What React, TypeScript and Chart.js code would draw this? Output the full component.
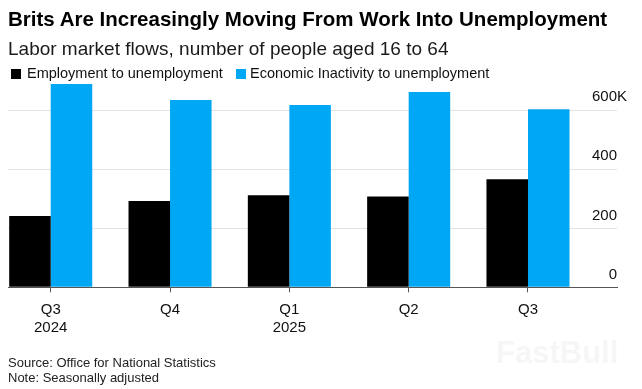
import React, { useEffect, useRef } from 'react';
import { Chart, registerables } from 'chart.js';

Chart.register(...registerables);

// ---- Data ----
const CATEGORIES: string[][] = [['Q3', '2024'], ['Q4'], ['Q1', '2025'], ['Q2'], ['Q3']];
const EMP_TO_UNEMP = [241, 292, 312, 307, 366]; // thousands
const INACT_TO_UNEMP = [688, 634, 617, 661, 603]; // thousands
const Y_TICKS = [0, 200, 400, 600];
const SERIES_NAMES = ['Employment to unemployment', 'Economic Inactivity to unemployment'];

const TITLE = 'Brits Are Increasingly Moving From Work Into Unemployment';
const SUBTITLE = 'Labor market flows, number of people aged 16 to 64';
const SOURCE = 'Source: Office for National Statistics';
const NOTE = 'Note: Seasonally adjusted';

// ---- Styles ----
const COLORS = ['#000000', '#00a7f5'];
const FONT = '"Liberation Sans", Arial, Helvetica, sans-serif';
const TEXT = '#111111';

const yLabelPlugin = {
  id: 'yLabelsRight',
  afterDraw(chart: any) {
    const ys = chart.scales.y;
    const ctx = chart.ctx as CanvasRenderingContext2D;
    const right = chart.chartArea.right;
    const top = Math.max(...Y_TICKS);
    ctx.save();
    ctx.font = `15px ${FONT}`;
    ctx.fillStyle = TEXT;
    ctx.textBaseline = 'alphabetic';
    for (const v of Y_TICKS) {
      const py = ys.getPixelForValue(v) - 8.7;
      ctx.textAlign = 'right';
      ctx.fillText(String(v), right, py);
      if (v === top) {
        ctx.textAlign = 'left';
        ctx.fillText('K', right, py);
      }
    }
    ctx.restore();
  },
};

function BarChart() {
  const ref = useRef<HTMLCanvasElement | null>(null);
  useEffect(() => {
    if (!ref.current) return;
    const chart = new Chart(ref.current, {
      type: 'bar',
      data: {
        datasets: [
          {
            label: SERIES_NAMES[0],
            data: EMP_TO_UNEMP.map((v, i) => ({ x: i, y: v })),
            backgroundColor: COLORS[0],
          },
          {
            label: SERIES_NAMES[1],
            data: INACT_TO_UNEMP.map((v, i) => ({ x: i, y: v })),
            backgroundColor: COLORS[1],
          },
        ],
      },
      options: {
        animation: false,
        responsive: false,
        maintainAspectRatio: false,
        layout: { padding: { top: 80.5, left: 8, right: 25, bottom: 51.7 } },
        plugins: {
          legend: { display: false },
          title: { display: false },
          tooltip: { enabled: false },
        },
        datasets: { bar: { categoryPercentage: 0.696, barPercentage: 1 } },
        scales: {
          x: {
            type: 'linear',
            min: -0.358,
            max: 4.746,
            offset: false,
            afterBuildTicks: (s: any) => {
              s.ticks = CATEGORIES.map((_, i) => ({ value: i }));
            },
            afterFit: (s: any) => {
              s.height = 50;
            },
            grid: {
              display: true,
              offset: false,
              drawOnChartArea: false,
              drawTicks: true,
              tickLength: 5,
              color: '#555555',
              lineWidth: 1,
            },
            border: { display: true, color: '#555555', width: 1 },
            ticks: {
              autoSkip: false,
              maxRotation: 0,
              minRotation: 0,
              padding: 9,
              color: TEXT,
              font: { family: FONT, size: 15, lineHeight: 1.16 },
              callback: (v: any) => CATEGORIES[v] ?? '',
            },
          },
          y: {
            position: 'right',
            min: 0,
            max: 700,
            afterBuildTicks: (s: any) => {
              s.ticks = Y_TICKS.map((v) => ({ value: v }));
            },
            afterFit: (s: any) => {
              s.width = 0;
            },
            grid: { color: '#e3e3e3', drawTicks: false, lineWidth: 1 },
            border: { display: false },
            ticks: { display: false },
          },
        },
      } as any,
      plugins: [yLabelPlugin],
    });
    return () => chart.destroy();
  }, []);
  return (
    <canvas
      ref={ref}
      width={642}
      height={389}
      style={{ position: 'absolute', left: 0, top: 0, width: 642, height: 389, display: 'block' }}
    />
  );
}

export default function App() {
  const abs = (top: number, left: number, size: number, extra: React.CSSProperties = {}): React.CSSProperties => ({
    position: 'absolute',
    top,
    left,
    fontSize: size,
    lineHeight: `${size}px`,
    fontFamily: FONT,
    color: TEXT,
    whiteSpace: 'nowrap',
    margin: 0,
    ...extra,
  });
  return (
    <div style={{ position: 'fixed', left: 0, top: 0, width: 642, height: 389, background: '#ffffff', overflow: 'hidden' }}>
      <BarChart />
      <div style={abs(9.3, 8, 20.5, { fontWeight: 700, color: '#000' })}>{TITLE}</div>
      <div style={abs(38.9, 8, 19, { color: '#1a1a1a' })}>{SUBTITLE}</div>
      <div style={{ position: 'absolute', top: 69, left: 10.5, width: 10, height: 10, background: COLORS[0] }} />
      <div style={abs(66.4, 27, 14.5)}>{SERIES_NAMES[0]}</div>
      <div style={{ position: 'absolute', top: 69, left: 235.5, width: 10, height: 10, background: COLORS[1] }} />
      <div style={abs(66.4, 250, 14.5)}>{SERIES_NAMES[1]}</div>
      <div style={abs(356.3, 8, 13, { color: '#222' })}>{SOURCE}</div>
      <div style={abs(370.7, 8, 13, { color: '#222' })}>{NOTE}</div>
      <div style={abs(337, 496, 31, { fontWeight: 700, color: '#f6f6f6' })}>FastBull</div>
    </div>
  );
}
